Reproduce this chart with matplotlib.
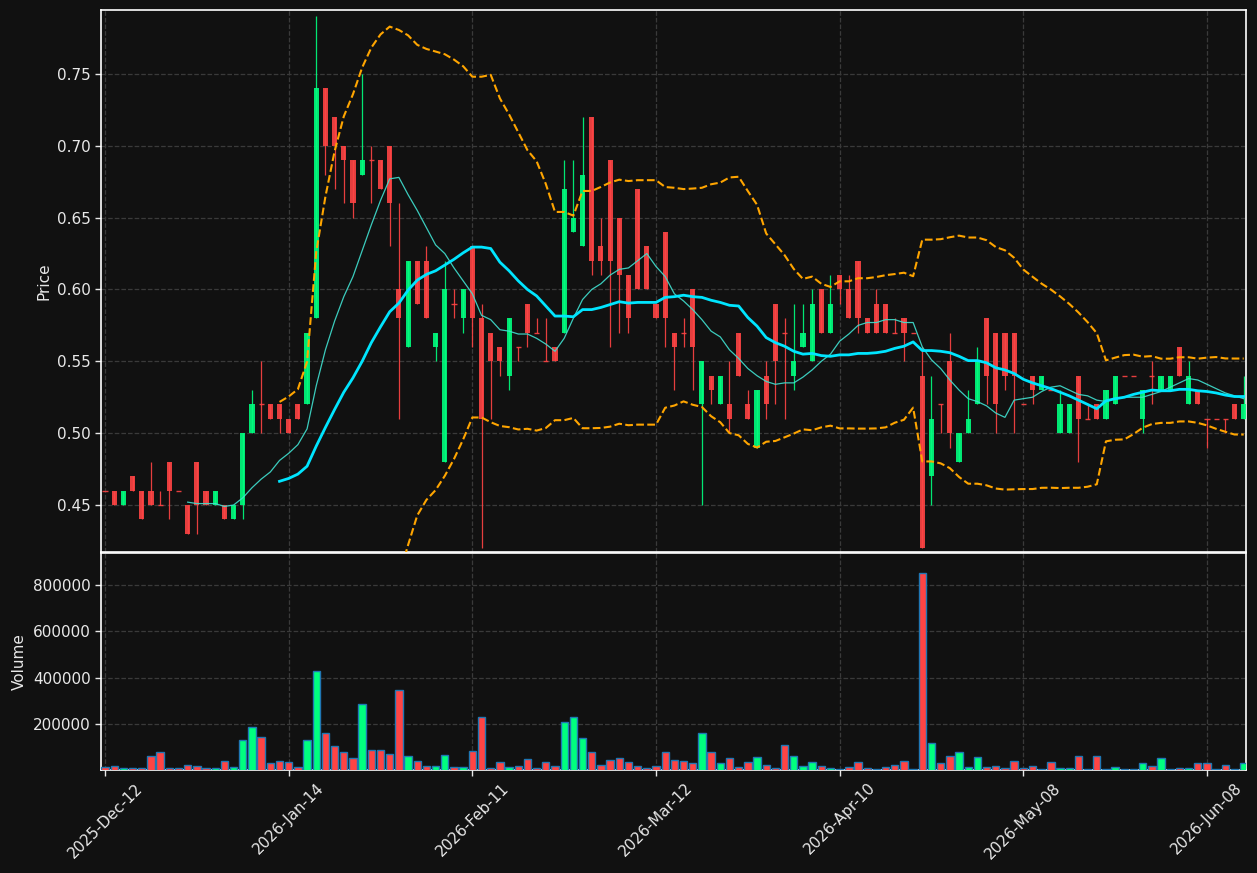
import numpy as np
import pandas as pd
import matplotlib
matplotlib.use("Agg")
import matplotlib.pyplot as plt
from matplotlib.ticker import FuncFormatter

# ---------------- data ----------------
opens = [0.46, 0.46, 0.45, 0.47, 0.46, 0.46, 0.45, 0.48, 0.46, 0.45,
         0.48, 0.46, 0.45, 0.45, 0.44, 0.45, 0.50, 0.52, 0.52, 0.52,
         0.51, 0.52, 0.52, 0.58, 0.74, 0.72, 0.70, 0.69, 0.68, 0.69,
         0.69, 0.70, 0.60, 0.56, 0.62, 0.62, 0.56, 0.48, 0.59, 0.58,
         0.63, 0.58, 0.57, 0.56, 0.54, 0.56, 0.59, 0.57, 0.55, 0.56,
         0.57, 0.64, 0.63, 0.72, 0.63, 0.69, 0.65, 0.61, 0.67, 0.63,
         0.59, 0.64, 0.57, 0.57, 0.60, 0.52, 0.54, 0.52, 0.52, 0.57,
         0.52, 0.49, 0.54, 0.59, 0.57, 0.54, 0.56, 0.55, 0.60, 0.57,
         0.61, 0.60, 0.62, 0.58, 0.59, 0.59, 0.57, 0.58, 0.57, 0.54,
         0.47, 0.52, 0.55, 0.48, 0.50, 0.52, 0.58, 0.57, 0.57, 0.57,
         0.52, 0.54, 0.53, 0.53, 0.50, 0.50, 0.54, 0.51, 0.52, 0.51,
         0.52, 0.54, 0.54, 0.51, 0.54, 0.53, 0.53, 0.56, 0.52, 0.53,
         0.51, 0.51, 0.51, 0.52, 0.51]
highs = [0.46, 0.46, 0.46, 0.47, 0.46, 0.48, 0.46, 0.48, 0.46, 0.45,
         0.48, 0.46, 0.46, 0.45, 0.45, 0.50, 0.53, 0.55, 0.52, 0.52,
         0.51, 0.52, 0.57, 0.79, 0.74, 0.72, 0.70, 0.69, 0.75, 0.70,
         0.69, 0.70, 0.66, 0.62, 0.62, 0.63, 0.57, 0.62, 0.60, 0.60,
         0.63, 0.59, 0.57, 0.56, 0.58, 0.56, 0.59, 0.58, 0.58, 0.56,
         0.69, 0.69, 0.72, 0.72, 0.65, 0.69, 0.65, 0.61, 0.67, 0.63,
         0.59, 0.64, 0.57, 0.58, 0.60, 0.55, 0.54, 0.54, 0.55, 0.57,
         0.53, 0.53, 0.55, 0.59, 0.58, 0.59, 0.59, 0.60, 0.60, 0.61,
         0.61, 0.61, 0.62, 0.58, 0.60, 0.59, 0.58, 0.58, 0.57, 0.56,
         0.54, 0.52, 0.57, 0.50, 0.53, 0.56, 0.58, 0.57, 0.57, 0.57,
         0.52, 0.54, 0.54, 0.53, 0.53, 0.52, 0.54, 0.52, 0.52, 0.53,
         0.54, 0.54, 0.54, 0.53, 0.55, 0.54, 0.54, 0.56, 0.55, 0.53,
         0.51, 0.51, 0.51, 0.52, 0.54]
lows = [0.46, 0.45, 0.45, 0.46, 0.44, 0.45, 0.45, 0.44, 0.46, 0.43,
        0.43, 0.45, 0.45, 0.44, 0.44, 0.44, 0.50, 0.50, 0.51, 0.50,
        0.50, 0.51, 0.52, 0.58, 0.68, 0.67, 0.66, 0.65, 0.68, 0.66,
        0.67, 0.63, 0.51, 0.56, 0.59, 0.58, 0.55, 0.48, 0.58, 0.57,
        0.56, 0.42, 0.51, 0.54, 0.53, 0.55, 0.56, 0.57, 0.55, 0.55,
        0.57, 0.64, 0.63, 0.61, 0.61, 0.56, 0.57, 0.57, 0.60, 0.60,
        0.58, 0.56, 0.53, 0.56, 0.53, 0.45, 0.52, 0.52, 0.50, 0.54,
        0.51, 0.49, 0.51, 0.52, 0.51, 0.53, 0.56, 0.55, 0.57, 0.57,
        0.59, 0.58, 0.57, 0.57, 0.57, 0.57, 0.57, 0.55, 0.57, 0.42,
        0.45, 0.50, 0.49, 0.48, 0.50, 0.52, 0.52, 0.50, 0.53, 0.50,
        0.52, 0.52, 0.53, 0.53, 0.50, 0.50, 0.48, 0.51, 0.51, 0.51,
        0.52, 0.54, 0.54, 0.50, 0.52, 0.53, 0.53, 0.54, 0.52, 0.52,
        0.49, 0.51, 0.50, 0.51, 0.51]
closes = [0.46, 0.45, 0.46, 0.46, 0.44, 0.45, 0.45, 0.46, 0.46, 0.43,
          0.45, 0.45, 0.46, 0.44, 0.45, 0.50, 0.52, 0.52, 0.51, 0.51,
          0.50, 0.51, 0.57, 0.74, 0.70, 0.70, 0.69, 0.66, 0.69, 0.69,
          0.67, 0.66, 0.58, 0.62, 0.59, 0.58, 0.57, 0.60, 0.59, 0.60,
          0.58, 0.51, 0.55, 0.55, 0.58, 0.56, 0.57, 0.57, 0.55, 0.55,
          0.67, 0.65, 0.68, 0.62, 0.62, 0.62, 0.61, 0.58, 0.60, 0.60,
          0.58, 0.58, 0.56, 0.57, 0.56, 0.55, 0.53, 0.54, 0.51, 0.54,
          0.51, 0.53, 0.52, 0.55, 0.57, 0.55, 0.57, 0.59, 0.57, 0.59,
          0.60, 0.58, 0.58, 0.57, 0.57, 0.57, 0.57, 0.57, 0.57, 0.42,
          0.51, 0.52, 0.50, 0.50, 0.51, 0.55, 0.54, 0.52, 0.54, 0.54,
          0.52, 0.53, 0.54, 0.53, 0.52, 0.52, 0.51, 0.51, 0.51, 0.53,
          0.54, 0.54, 0.54, 0.53, 0.54, 0.54, 0.54, 0.54, 0.54, 0.52,
          0.51, 0.51, 0.51, 0.51, 0.52]
volumes = [15000, 19000, 10000, 11000, 11000, 63000, 78000, 11000, 9000, 25000,
           19000, 9000, 9000, 40000, 17000, 132000, 187000, 143000, 32000, 40000,
           36000, 17000, 133000, 429000, 160000, 105000, 82000, 53000, 286000, 90000,
           90000, 72000, 347000, 61000, 40000, 21000, 21000, 65000, 17000, 17000,
           86000, 229000, 13000, 36000, 17000, 21000, 48000, 13000, 36000, 21000,
           208000, 232000, 139000, 82000, 25000, 44000, 53000, 36000, 21000, 13000,
           21000, 78000, 44000, 40000, 32000, 164000, 82000, 32000, 53000, 17000,
           36000, 57000, 25000, 13000, 109000, 61000, 21000, 36000, 21000, 9000,
           8000, 15000, 36000, 9000, 8000, 17000, 25000, 40000, 8000, 853000,
           118000, 32000, 61000, 78000, 17000, 57000, 17000, 21000, 13000, 40000,
           13000, 21000, 8000, 36000, 13000, 13000, 61000, 8000, 61000, 8000,
           17000, 8000, 8000, 32000, 21000, 53000, 8000, 10000, 13000, 32000,
           32000, 8000, 25000, 8000, 32000]
tick_labels = ["2025-Dec-12", "2026-Jan-14", "2026-Feb-11", "2026-Mar-12",
               "2026-Apr-10", "2026-May-08", "2026-Jun-08"]
tick_step = 20

# ---------------- derived series ----------------
O = np.array(opens); H = np.array(highs); L = np.array(lows); C = np.array(closes)
V = np.array(volumes)
n = len(C)
x = np.arange(n)
cs = pd.Series(C)
ma10 = cs.rolling(10).mean()
ma20 = cs.rolling(20).mean()
sd20 = cs.rolling(20).std(ddof=0)
bb_up = ma20 + 2 * sd20
bb_lo = ma20 - 2 * sd20

UP = "#00FF7F"
DOWN = "#FF4444"
BG = "#111111"
TXT = "#e8e8e8"
GRID = "#3a3a3a"
up_mask = C > O
cols = np.where(up_mask, UP, DOWN)

# ---------------- figure ----------------
fig = plt.figure(figsize=(12.57, 8.73), dpi=100, facecolor=BG)
W, Hh = 1257.0, 873.0
ax = fig.add_axes([101 / W, 1 - 552 / Hh, (1246 - 101) / W, (552 - 10) / Hh])
axv = fig.add_axes([101 / W, 1 - 770 / Hh, (1246 - 101) / W, (770 - 553) / Hh], sharex=ax)

for a in (ax, axv):
    a.set_facecolor(BG)
    for s in a.spines.values():
        s.set_color("white")
        s.set_linewidth(1.2)
    a.tick_params(colors=TXT, labelsize=11, length=4, width=1)
    a.grid(True, linestyle="--", color=GRID, linewidth=0.9)
    a.set_axisbelow(True)

# candles
bw = 0.56
ax.vlines(x, L, H, colors=cols, linewidth=0.9, alpha=0.9, zorder=3)
body_lo = np.minimum(O, C)
body_h = np.abs(C - O)
ax.bar(x, body_h, width=bw, bottom=body_lo, color=cols, alpha=0.9, linewidth=0, zorder=4)
doji = body_h < 1e-9
ax.hlines(C[doji], x[doji] - bw / 2, x[doji] + bw / 2, colors=cols[doji], linewidth=1.0,
          alpha=0.9, zorder=4)

# moving averages / bollinger
ax.plot(x, ma10, color="#40E0D0", linewidth=0.9, alpha=0.9, zorder=5)
ax.plot(x, ma20, color="#00E5FF", linewidth=2.0, zorder=5)
ax.plot(x, bb_up, color="#FFA500", linestyle="--", linewidth=1.5, zorder=5)
ax.plot(x, bb_lo, color="#FFA500", linestyle="--", linewidth=1.5, zorder=5)

ax.set_ylim(0.4173, 0.7945)
ax.set_xlim(-0.44, n - 0.75)
ax.set_yticks([0.45, 0.50, 0.55, 0.60, 0.65, 0.70, 0.75])
ax.yaxis.set_major_formatter(FuncFormatter(lambda v, p: f"{v:.2f}"))
ax.set_ylabel("Price", color=TXT, fontsize=11)
plt.setp(ax.get_xticklabels(), visible=False)

# volume
axv.bar(x, V, width=0.8, color=cols, edgecolor="#1f77b4", linewidth=1.0, zorder=3)
axv.set_ylim(0.3 * V.min(), 1.1 * V.max())
axv.set_yticks([200000, 400000, 600000, 800000])
axv.yaxis.set_major_formatter(FuncFormatter(lambda v, p: f"{int(v)}"))
axv.set_ylabel("Volume", color=TXT, fontsize=11)

tick_pos = list(range(0, n, tick_step))[:len(tick_labels)]
axv.set_xticks(tick_pos)
axv.set_xticklabels(tick_labels, rotation=45, fontsize=11, color=TXT)

fig.savefig("out.png", dpi=100, facecolor=BG)
